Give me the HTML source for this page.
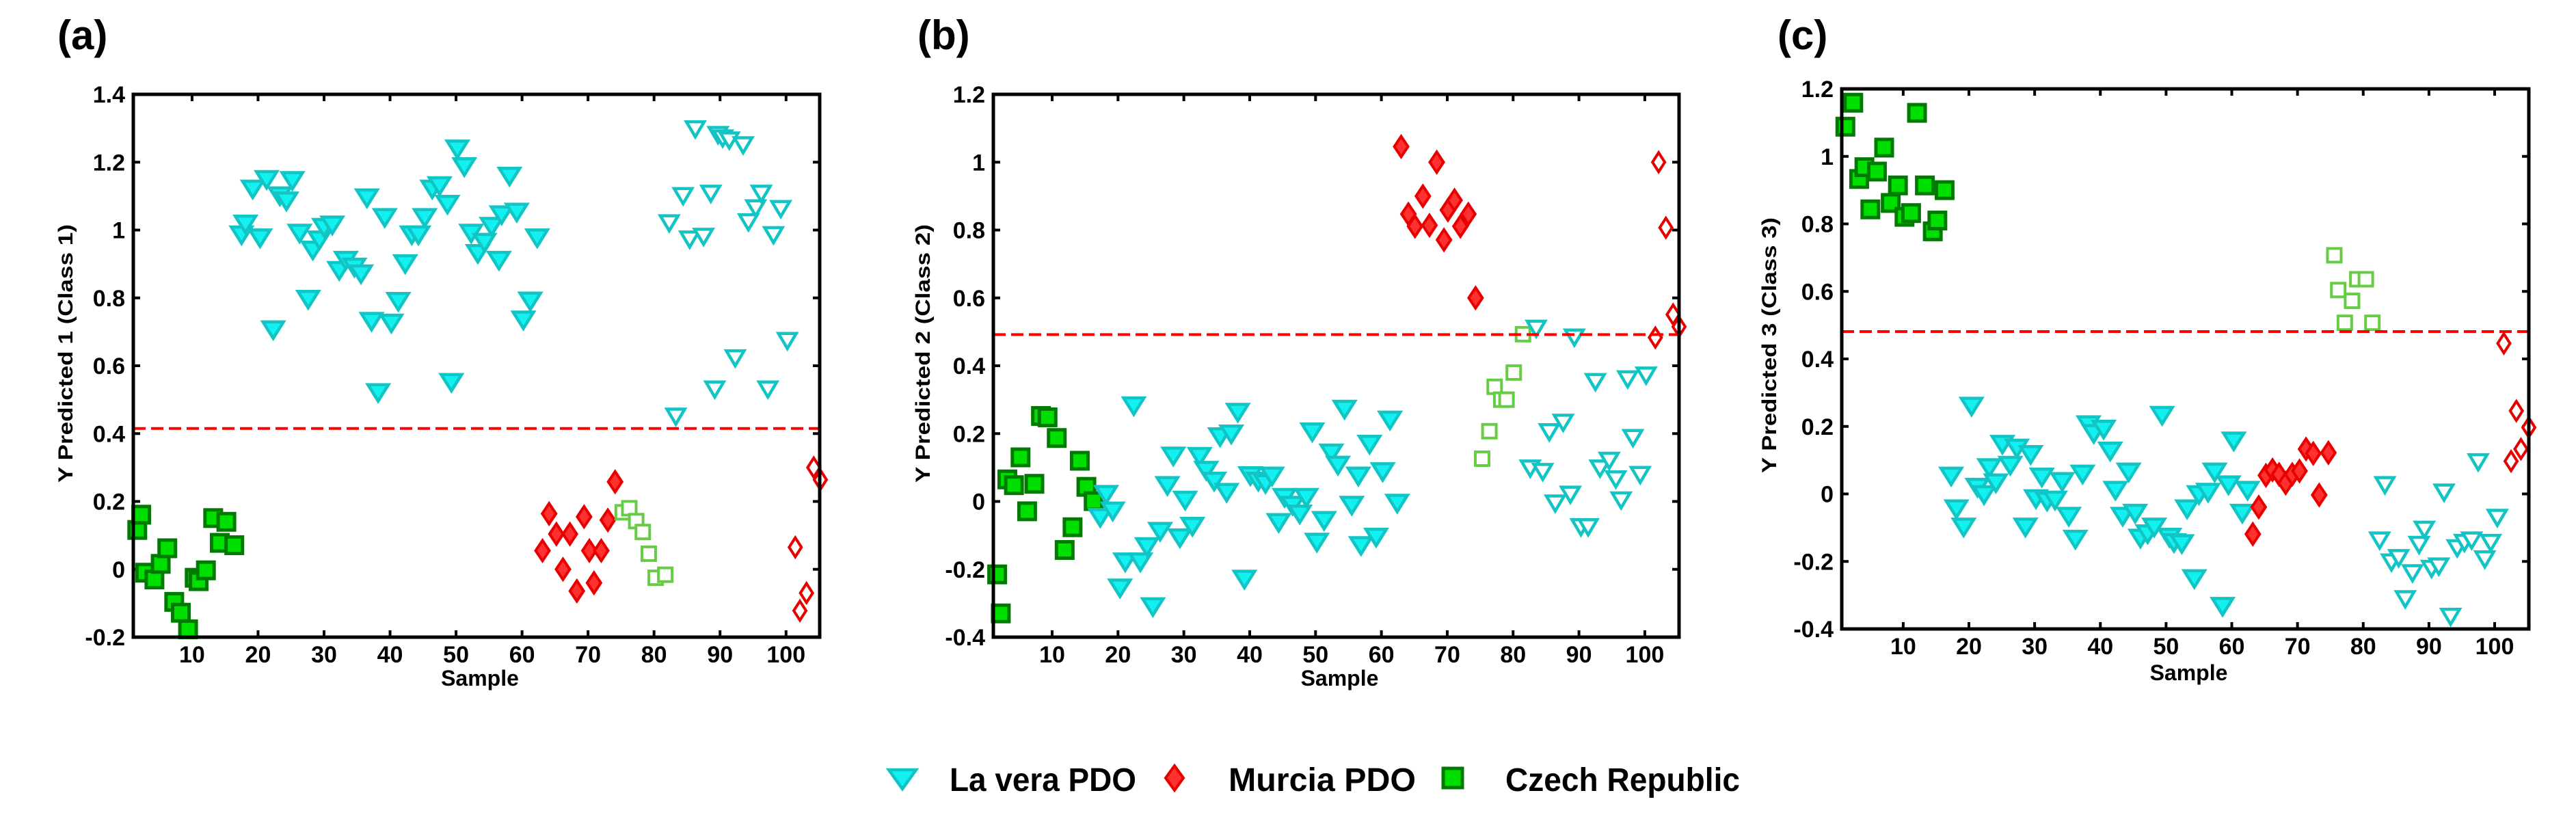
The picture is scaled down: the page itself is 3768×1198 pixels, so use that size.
<!DOCTYPE html>
<html><head><meta charset="utf-8"><style>
html,body{margin:0;padding:0;background:#fff;}
svg{display:block;}
text{font-family:"Liberation Sans",sans-serif;font-weight:bold;fill:#000;}
</style></head><body>
<svg id="chart" width="3768" height="1198" viewBox="0 0 3768 1198" xmlns="http://www.w3.org/2000/svg">
<rect width="3768" height="1198" fill="#fff"/>
</svg>
<script>
// ---------- Panel (a) data ----------
const aCzechX=[1.7,2.3,2.9,4.3,5.25,6.25,7.3,8.3,9.4,10.4,11,12.1,13.2,15.2,14.2,16.4];
const aCzechY=[0.116,0.161,-0.01,-0.03,0.016,0.062,-0.096,-0.128,-0.177,-0.025,-0.035,-0.003,0.151,0.14,0.078,0.071];
const aLaveraX=[17.5,18.1,19.2,20.3,21.3,22.3,23.3,24.3,25.2,26.3,27.6,28.3,29.3,30,31.25,32.3,33.3,34.6,35.6,36.5,37.2,38.2,39.2,40.2,41.25,42.3,43.3,44.3,45.25,46.4,47.5,48.7,49.3,50.2,51.25,52.3,53.3,54.3,55.4,56.5,56.9,58.1,59.2,60.2,61.25,62.3];
const aLaveraY=[0.985,1.017,1.12,0.976,1.148,0.705,1.1,1.085,1.145,0.99,0.795,0.94,0.97,1.007,1.014,0.88,0.91,0.89,0.87,1.094,0.73,0.52,1.036,0.725,0.789,0.9,0.985,0.985,1.036,1.12,1.13,1.075,0.55,1.238,1.186,0.99,0.93,0.963,1.01,0.91,1.044,1.158,1.052,0.734,0.79,0.976];
const aMurciaX=[63.1,64.1,65.2,66.2,67.25,68.3,69.4,70.2,70.9,72,73,74.1];
const aMurciaY=[0.055,0.164,0.104,0,0.104,-0.064,0.155,0.055,-0.04,0.055,0.145,0.258];
const aCzechTestX=[75.25,76.25,77.3,78.3,79.2,80.25,81.7];
const aCzechTestY=[0.168,0.18,0.142,0.11,0.046,-0.025,-0.016];
const aLaveraTestX=[82.3,83.3,84.4,85.4,86.25,87.5,88.6,89.2,89.7,90.4,91.4,92.3,93.5,94.3,95.4,96.25,97.25,98.1,99.2,100.2];
const aLaveraTestY=[1.02,0.45,1.1,0.972,1.297,0.98,1.107,0.53,1.28,1.27,1.264,0.622,1.25,1.023,1.064,1.107,0.53,0.985,1.062,0.673];
const aMurciaTestX=[101.4,102.1,103.1,104.2,105.2];
const aMurciaTestY=[0.065,-0.122,-0.07,0.3,0.264];
const aThreshold=0.415;
const aYTicks=[-0.2,0,0.2,0.4,0.6,0.8,1,1.2,1.4];

// ---------- Panel (b) data ----------
const bCzechX=[1.65,2.2,3.2,4.2,5.2,6.2,7.3,8.3,9.3,10.7,11.9,13.1,14.2,15.2,16.3];
const bCzechY=[-0.215,-0.33,0.065,0.048,0.13,-0.029,0.052,0.252,0.248,0.187,-0.143,-0.076,0.12,0.043,0.001];
const bLaveraX=[17.3,18.2,19.2,20.3,21.1,22.4,23.4,24.4,25.3,26.4,27.5,28.4,29.4,30.2,31.3,32.4,33.4,34.6,35.5,36.5,37.2,38.2,39.2,40.1,41.3,42.4,43.4,44.4,45.3,46.5,47.6,48.6,49.5,50.2,51.3,52.4,53.4,54.4,55.5,56.5,56.9,58.2,59.2,60.2,61.3,62.4];
const bLaveraY=[-0.048,0.02,-0.029,-0.256,-0.179,0.281,-0.179,-0.134,-0.311,-0.089,0.046,0.133,-0.108,0.003,-0.074,0.132,0.091,0.059,0.19,0.026,0.198,0.262,-0.23,0.075,0.059,0.052,0.074,-0.063,0.011,-0.012,-0.038,0.011,0.204,-0.121,-0.057,0.142,0.106,0.271,-0.012,0.074,-0.131,0.168,-0.106,0.087,0.239,-0.006];
const bMurciaX=[63,64.1,65.1,66.3,67.3,68.4,69.5,70.1,71.1,72,73.2,74.3];
const bMurciaY=[1.046,0.847,0.811,0.9,0.814,1.0,0.771,0.859,0.888,0.811,0.847,0.6];
const bCzechTestX=[75.3,76.4,77.2,78.2,79,80.1,81.5];
const bCzechTestY=[0.126,0.207,0.338,0.3,0.3,0.38,0.493];
const bLaveraTestX=[82.6,83.5,84.5,85.5,86.4,87.6,88.7,89.3,90.3,91.4,92.5,93.2,94.6,95.6,96.4,97.4,98.2,99.3,100.2];
const bLaveraTestY=[0.097,0.509,0.087,0.204,-0.006,0.232,0.02,0.483,-0.076,-0.076,0.352,0.097,0.12,0.065,0.003,0.36,0.187,0.078,0.371];
const bMurciaTestX=[101.6,102.1,103.2,104.3,105.2];
const bMurciaTestY=[0.483,1.0,0.807,0.551,0.515];
const bThreshold=0.492;
const bYTicks=[-0.4,-0.2,0,0.2,0.4,0.6,0.8,1,1.2];

// ---------- Panel (c) data ----------
const cCzechX=[1.2,2.4,3.3,4.1,5,6,7.1,8.1,9.2,10.2,11.2,12.1,13.3,14.5,15.2,16.3];
const cCzechY=[1.088,1.159,0.933,0.968,0.843,0.955,1.026,0.862,0.914,0.821,0.832,1.129,0.914,0.778,0.81,0.9];
const cLaveraX=[17.3,18.1,19.2,20.4,21.3,22.3,23.1,24.1,25.1,26.3,27.3,28.6,29.4,30.2,31.1,31.9,33.1,34.2,35.2,36.2,37.3,38.2,39,40.5,41.5,42.3,43.4,44.3,45.3,46.1,47.2,48.2,49.4,50.5,51.2,52.4,53.2,54.3,55,56.4,57.4,58.6,59.5,60.3,61.6,62.4];
const cLaveraY=[0.052,-0.045,-0.099,0.259,0.019,-0.003,0.077,0.032,0.146,0.084,0.135,-0.099,0.116,-0.015,0.049,-0.022,-0.019,0.036,-0.067,-0.135,0.058,0.204,0.178,0.191,0.126,0.01,-0.067,0.064,-0.058,-0.132,-0.119,-0.099,0.232,-0.129,-0.145,-0.148,-0.045,-0.252,-0.003,0.004,0.064,-0.334,0.026,0.156,-0.058,0.01];
const cMurciaX=[63.2,64.1,65.2,66.2,67.2,68.2,69.2,70.3,71.3,72.4,73.3,74.7];
const cMurciaY=[-0.119,-0.039,0.055,0.071,0.058,0.032,0.058,0.068,0.133,0.12,-0.003,0.122];
const cCzechTestX=[75.6,76.2,77.2,78.3,79.1,80.4,81.4];
const cCzechTestY=[0.707,0.604,0.507,0.572,0.636,0.636,0.507];
const cLaveraTestX=[82.5,83.3,84.3,85.4,86.4,87.5,88.5,89.3,90.4,91.5,92.3,93.3,94.3,95.4,96.5,97.5,98.5,99.4,100.4];
const cLaveraTestY=[-0.138,0.026,-0.203,-0.19,-0.312,-0.235,-0.151,-0.106,-0.222,-0.215,0.004,-0.364,-0.161,-0.145,-0.138,0.094,-0.194,-0.145,-0.071];
const cMurciaTestX=[101.4,102.5,103.3,104,105.2];
const cMurciaTestY=[0.446,0.097,0.246,0.133,0.197];
const cThreshold=0.481;
const cYTicks=[-0.4,-0.2,0,0.2,0.4,0.6,0.8,1,1.2];

const xTicks=[10,20,30,40,50,60,70,80,90,100];
const legendLabels=["La vera PDO","Murcia PDO","Czech Republic"];

const NS="http://www.w3.org/2000/svg";
const svg=document.getElementById('chart');
function mk(tag,attrs,parent){const e=document.createElementNS(NS,tag);for(const k in attrs)e.setAttribute(k,attrs[k]);(parent||svg).appendChild(e);return e;}

const C={triF:'#13f0f0',triS:'#12c4c4',diaF:'#ff3030',diaS:'#e80000',sqF:'#00e000',sqS:'#007a00',sqOpen:'#66cc44'};

function tri(g,cx,cy,filled,w,h){
  return mk('polygon',{points:`${cx-w/2},${cy-h/2} ${cx+w/2},${cy-h/2} ${cx},${cy+h/2}`,fill:filled?C.triF:'#fff',stroke:C.triS,'stroke-width':4.5,'stroke-linejoin':'miter'},g);
}
function dia(g,cx,cy,filled,w,h){
  return mk('polygon',{points:`${cx},${cy-h/2} ${cx+w/2},${cy} ${cx},${cy+h/2} ${cx-w/2},${cy}`,fill:filled?C.diaF:'#fff',stroke:C.diaS,'stroke-width':4},g);
}
function sq(g,cx,cy,filled,s){
  return mk('rect',{x:cx-s/2,y:cy-s/2,width:s,height:s,fill:filled?C.sqF:'#fff',stroke:filled?C.sqS:C.sqOpen,'stroke-width':filled?5:4},g);
}

function panel(cfg){
  const {key,left,right,top,bottom,xmin,xmax,ymin,ymax}=cfg;
  const g=mk('g',{});
  
  
  const sx=v=>left+(v-xmin)/(xmax-xmin)*(right-left);
  const sy=v=>bottom-(v-ymin)/(ymax-ymin)*(bottom-top);

  const tg=mk('g',{},g);
  
  
  cfg.yTicks.forEach(t=>{
    const y=sy(t);
    mk('line',{x1:left,x2:left+10,y1:y,y2:y,stroke:'#000','stroke-width':4},tg);
    mk('line',{x1:right-10,x2:right,y1:y,y2:y,stroke:'#000','stroke-width':4},tg);
    const lb=mk('text',{x:left-12,y:y+12,'text-anchor':'end','font-size':34},tg);
    
    
    lb.textContent=String(t);
  });
  xTicks.forEach(t=>{
    const x=sx(t);
    mk('line',{x1:x,x2:x,y1:bottom,y2:bottom-10,stroke:'#000','stroke-width':4},tg);
    mk('line',{x1:x,x2:x,y1:top,y2:top+10,stroke:'#000','stroke-width':4},tg);
    const lb=mk('text',{x:x,y:bottom+37,'text-anchor':'middle','font-size':34},tg);
    
    
    lb.textContent=String(t);
  });

  const mg=mk('g',{},g);
  
  
  cfg.czechX.forEach((v,i)=>{const e=sq(mg,sx(v),sy(cfg.czechY[i]),true,24);});
  cfg.laveraX.forEach((v,i)=>{const e=tri(mg,sx(v),sy(cfg.laveraY[i]),true,30,24);});
  cfg.murciaX.forEach((v,i)=>{const e=dia(mg,sx(v),sy(cfg.murciaY[i]),true,20,30);});
  cfg.czechTX.forEach((v,i)=>{const e=sq(mg,sx(v),sy(cfg.czechTY[i]),false,20);});
  cfg.laveraTX.forEach((v,i)=>{const e=tri(mg,sx(v),sy(cfg.laveraTY[i]),false,26,22);});
  cfg.murciaTX.forEach((v,i)=>{const e=dia(mg,sx(v),sy(cfg.murciaTY[i]),false,18,28);});

  const th=mk('line',{x1:left,x2:right,y1:sy(cfg.threshold),y2:sy(cfg.threshold),stroke:'#ff0000','stroke-width':4,'stroke-dasharray':'18 8'},g);
  
  

  const fr=mk('rect',{x:left,y:top,width:right-left,height:bottom-top,fill:'none',stroke:'#000','stroke-width':5},g);
  
  

  const pl=mk('text',{x:cfg.labelX,y:72,'font-size':60},g);
  
  
  pl.textContent='('+key+')';
  const xt=mk('text',{x:(left+right)/2+5,y:cfg.xTitleY,'text-anchor':'middle','font-size':32},g);
  
  
  xt.textContent='Sample';
  const ycx=cfg.yTitleX, ycy=cfg.yTitleCY;
  const yt=mk('text',{x:ycx,y:ycy,'text-anchor':'middle','font-size':30,transform:`rotate(-90 ${ycx} ${ycy})`,textLength:cfg.yTitleLen,lengthAdjust:'spacingAndGlyphs'},g);
  
  
  yt.textContent=cfg.yTitle;
}

panel({key:'a',left:195,right:1199,top:138,bottom:932,xmin:1.1,xmax:105.1,ymin:-0.2,ymax:1.4,yTicks:aYTicks,threshold:aThreshold,
  czechX:aCzechX,czechY:aCzechY,laveraX:aLaveraX,laveraY:aLaveraY,murciaX:aMurciaX,murciaY:aMurciaY,
  czechTX:aCzechTestX,czechTY:aCzechTestY,laveraTX:aLaveraTestX,laveraTY:aLaveraTestY,murciaTX:aMurciaTestX,murciaTY:aMurciaTestY,
  labelX:84,xTitleY:1003,yTitleX:106,yTitleCY:517,yTitleLen:378,yTitle:'Y Predicted 1 (Class 1)'});
panel({key:'b',left:1453,right:2456,top:138,bottom:932,xmin:1.07,xmax:105.2,ymin:-0.4,ymax:1.2,yTicks:bYTicks,threshold:bThreshold,
  czechX:bCzechX,czechY:bCzechY,laveraX:bLaveraX,laveraY:bLaveraY,murciaX:bMurciaX,murciaY:bMurciaY,
  czechTX:bCzechTestX,czechTY:bCzechTestY,laveraTX:bLaveraTestX,laveraTY:bLaveraTestY,murciaTX:bMurciaTestX,murciaTY:bMurciaTestY,
  labelX:1342,xTitleY:1003,yTitleX:1360,yTitleCY:517,yTitleLen:378,yTitle:'Y Predicted 2 (Class 2)'});
panel({key:'c',left:2694,right:3699,top:130,bottom:920,xmin:0.65,xmax:105.2,ymin:-0.4,ymax:1.2,yTicks:cYTicks,threshold:cThreshold,
  czechX:cCzechX,czechY:cCzechY,laveraX:cLaveraX,laveraY:cLaveraY,murciaX:cMurciaX,murciaY:cMurciaY,
  czechTX:cCzechTestX,czechTY:cCzechTestY,laveraTX:cLaveraTestX,laveraTY:cLaveraTestY,murciaTX:cMurciaTestX,murciaTY:cMurciaTestY,
  labelX:2600,xTitleY:995,yTitleX:2598,yTitleCY:505,yTitleLen:374,yTitle:'Y Predicted 3 (Class 3)'});

const lg=mk('g',{});


const e1=tri(lg,1320,1140,true,40,28);


const e2=dia(lg,1718,1138,true,26,36);


const e3=sq(lg,2125,1138,true,28);


const legX=[1389,1797,2202], legLen=[273,274,343];
legendLabels.forEach((s,i)=>{
  const t=mk('text',{x:legX[i],y:1157,'font-size':48,textLength:legLen[i],lengthAdjust:'spacingAndGlyphs'},lg);
  
  
  t.textContent=s;
});
</script>
</body></html>
